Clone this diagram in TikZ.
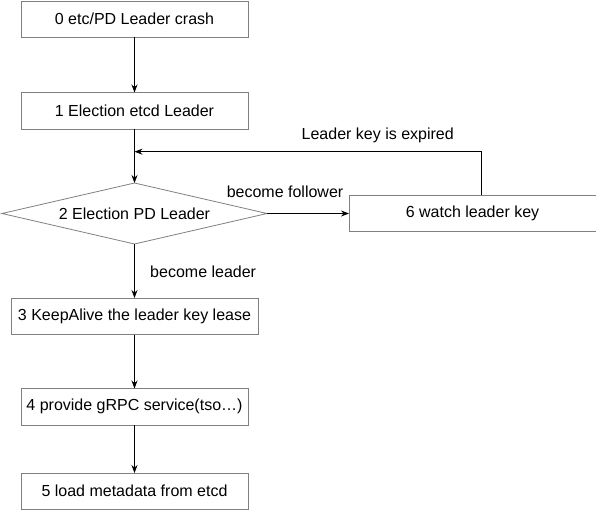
\documentclass[tikz,border=0pt]{standalone}
\usepackage{fontspec}
\setmainfont{Liberation Sans}
\usepackage{tikz}
\usetikzlibrary{shapes.geometric, arrows.meta, positioning}
\definecolor{boxgray}{RGB}{128,128,128}
\tikzstyle{process} = [rectangle, minimum width=227pt, minimum height=36.5pt, outer sep=0pt, text centered, draw=boxgray, line width=0.8pt, font=\fontsize{16}{19}\selectfont]
\tikzstyle{decision} = [diamond, aspect=4.34, minimum width=265pt, minimum height=61pt, inner sep=0pt, outer sep=0pt, text centered, draw=boxgray, line width=0.8pt, font=\fontsize{16}{19}\selectfont]
\tikzstyle{lbl} = [anchor=base, font=\fontsize{16}{19}\selectfont]
\tikzstyle{arrow} = [line width=0.8pt, ->, >={Stealth[length=8pt,width=6pt]}]

\begin{document}
\begin{tikzpicture}
				\useasboundingbox (0,0) rectangle (596pt,-510pt);
				\node (crash) [process] at (134.5pt,-19.25pt) {0 etc/PD Leader crash};
				\node (etcd) [process, below=55pt of crash] {1 Election etcd Leader};
				\node (pd) [decision, below=54pt of etcd] {2 Election PD Leader};
				\node (keepalive) [process, minimum width=247pt, below=54pt of pd] {3 KeepAlive the leader key lease};
				\node (grpc) [process, below=54pt of keepalive] {4 provide gRPC service(tso…)};
				\node (meta) [process, below=48pt of grpc] {5 load metadata from etcd};
				\node (watch) [process, minimum width=247pt, right=82pt of pd] {6 watch leader key};
				\coordinate (merge) at ([yshift=-22.7pt]etcd.south);

				\draw [arrow] (crash) -- (etcd);
				\draw [arrow] (etcd) -- (pd);
				\draw [arrow] (pd) -- node[lbl, pos=0.22, yshift=15.5pt] {become follower} (watch);
				\draw [arrow] ([xshift=8.5pt]watch.north) |- node[lbl, pos=0.649, yshift=12pt] {Leader key is expired} (merge);
				\draw [arrow] (pd) -- node[lbl, anchor=base west, pos=0.62, xshift=12pt] {become leader} (keepalive);
				\draw [arrow] (keepalive) -- (grpc);
				\draw [arrow] (grpc) -- (meta);

			\end{tikzpicture}
\end{document}
